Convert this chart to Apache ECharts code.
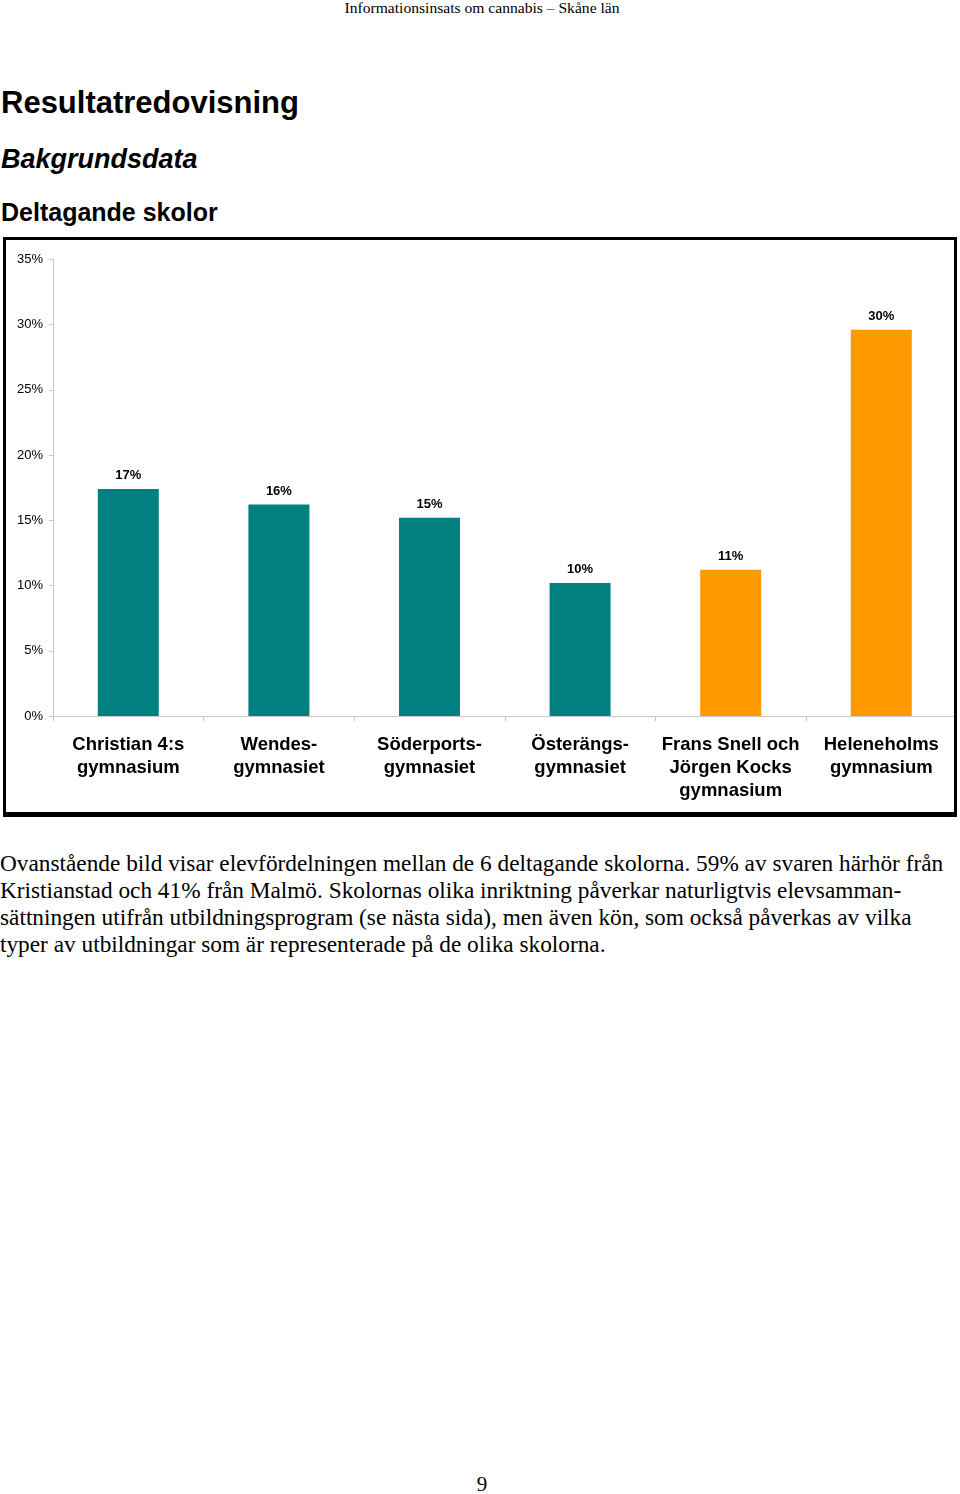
<!DOCTYPE html>
<html>
<head>
<meta charset="utf-8">
<script src="https://cdn.jsdelivr.net/npm/echarts@6/dist/echarts.min.js"></script>
<style>
  html, body { margin: 0; padding: 0; background: #fff; }
  body { width: 960px; height: 1494px; position: relative; overflow: hidden; }
  .t { position: absolute; white-space: nowrap; color: #000; }
  .serif { font-family: 'Liberation Serif', 'Times New Roman', serif; }
  .sans { font-family: 'Liberation Sans', Arial, sans-serif; font-weight: bold; }
  #chart { position: absolute; left: 3px; top: 237px; width: 954px; height: 580px; }
  #frame { position: absolute; left: 3px; top: 237px; width: 954px; height: 580px; box-sizing: border-box;
           border-style: solid; border-color: #000; border-width: 3px 3px 5px 3px; pointer-events: none; }
</style>
</head>
<body>
<div class="t serif" style="left:0;width:964px;text-align:center;top:0px;font-size:15.6px;line-height:15.6px;">Informationsinsats om cannabis – Skåne län</div>
<div class="t sans" style="left:1px;top:87px;font-size:31px;line-height:31px;">Resultatredovisning</div>
<div class="t sans" style="left:1px;top:146px;font-size:27px;line-height:27px;font-style:italic;">Bakgrundsdata</div>
<div class="t sans" style="left:1px;top:200px;font-size:25px;line-height:25px;">Deltagande skolor</div>

<div id="chart"></div>
<div id="frame"></div>

<div class="serif" style="position:absolute;left:0;top:849.5px;font-size:23.3px;line-height:27px;color:#000;">
  <div style="white-space:nowrap;">Ovanstående bild visar elevfördelningen mellan de 6 deltagande skolorna. 59% av svaren härhör från</div>
  <div style="white-space:nowrap;">Kristianstad och 41% från Malmö. Skolornas olika inriktning påverkar naturligtvis elevsamman-</div>
  <div style="white-space:nowrap;">sättningen utifrån utbildningsprogram (se nästa sida), men även kön, som också påverkas av vilka</div>
  <div style="white-space:nowrap;">typer av utbildningar som är representerade på de olika skolorna.</div>
</div>

<div class="t serif" style="left:0;width:964px;text-align:center;top:1474px;font-size:21px;line-height:21px;">9</div>

<script>
// ---- data ----
var schools = [
  'Christian 4:s\ngymnasium',
  'Wendes-\ngymnasiet',
  'Söderports-\ngymnasiet',
  'Österängs-\ngymnasiet',
  'Frans Snell och\nJörgen Kocks\ngymnasium',
  'Heleneholms\ngymnasium'
];
var shares = [17.4, 16.2, 15.2, 10.2, 11.2, 29.6];   // percent of respondents
var city = ['Kristianstad', 'Kristianstad', 'Kristianstad', 'Kristianstad', 'Malmö', 'Malmö'];
var yTicks = [0, 5, 10, 15, 20, 25, 30, 35];

// ---- styles ----
var cityColor = { 'Kristianstad': '#008080', 'Malmö': '#FF9900' };
var font = "'Liberation Sans', Arial, sans-serif";

var chart = echarts.init(document.getElementById('chart'), null, { renderer: 'canvas' });
chart.setOption({
  animation: false,
  backgroundColor: '#fff',
  grid: { left: 50, top: 22.3, right: 0.4, bottom: 101, containLabel: false },
  xAxis: {
    type: 'category',
    data: schools,
    axisLine: { lineStyle: { color: '#c8c8c8', width: 1 } },
    axisTick: { show: true, length: 5, lineStyle: { color: '#c8c8c8' }, alignWithLabel: false },
    axisLabel: {
      interval: 0, margin: 17, color: '#000', fontFamily: font, fontWeight: 'bold',
      fontSize: 18.5, lineHeight: 23
    }
  },
  yAxis: {
    type: 'value',
    min: yTicks[0], max: yTicks[yTicks.length - 1], interval: 5,
    axisLine: { show: true, lineStyle: { color: '#c8c8c8', width: 1 } },
    axisTick: { show: true, length: 4, lineStyle: { color: '#c8c8c8' } },
    splitLine: { show: false },
    axisLabel: { margin: 10, color: '#000', fontFamily: font, fontSize: 13, formatter: '{value}%' }
  },
  series: [{
    type: 'bar',
    barWidth: 61,
    data: shares.map(function (v, i) {
      return { value: v, itemStyle: { color: cityColor[city[i]] } };
    }),
    label: {
      show: true, position: 'top', distance: 7, color: '#000',
      fontFamily: font, fontWeight: 'bold', fontSize: 13,
      formatter: function (p) { return Math.round(p.value) + '%'; }
    }
  }]
});
</script>
</body>
</html>
